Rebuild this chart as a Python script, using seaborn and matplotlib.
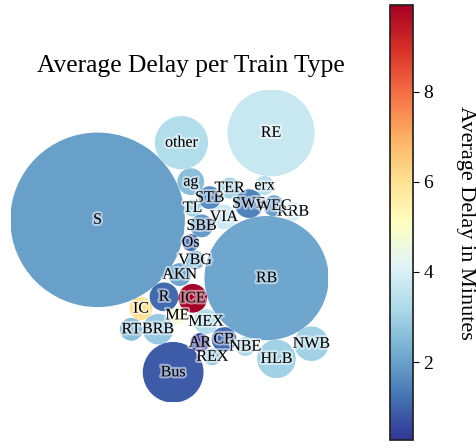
import matplotlib
matplotlib.use("Agg")
import matplotlib.pyplot as plt
import matplotlib.patheffects as pe
import numpy as np
import seaborn as sns

sns.set_theme(
    style="white",
    rc={"text.color": "black", "axes.labelcolor": "black",
        "xtick.color": "black", "ytick.color": "black"},
)
plt.rcParams["font.family"] = ["Liberation Serif", "DejaVu Serif"]

# train types (sorted as from a groupby), number of trains and average delay in minutes
train_types = [
    "AKN", "AR", "BRB", "Bus", "CB", "HLB", "IC", "ICE", "ME", "MEX", "NBE",
    "NWB", "Os", "R", "RB", "RE", "REX", "RRB", "RT", "S", "SBB", "STB",
    "SWE", "TER", "TL", "VBG", "VIA", "WEC", "ag", "erx", "other",
]
n_trains = [
    380, 255, 700, 2904, 450, 1130, 380, 615, 200, 450, 255,
    910, 200, 615, 12430, 6042, 200, 255, 380, 24700, 380, 380,
    615, 315, 200, 255, 450, 315, 530, 255, 2214,
]
avg_delay = [
    2.1, 0.27, 2.8, 0.85, 1.1, 3.0, 6.0, 9.93, 4.9, 3.3, 3.2,
    3.0, 1.2, 1.1, 2.1, 3.7, 2.8, 4.0, 2.6, 2.0, 1.9, 1.6,
    1.5, 3.0, 3.0, 2.4, 3.8, 2.0, 2.6, 3.4, 3.3,
]


class BubbleChart:
    def __init__(self, area, bubble_spacing=0):
        area = np.asarray(area, dtype=float)
        r = np.sqrt(area / np.pi)
        self.bubble_spacing = bubble_spacing
        self.bubbles = np.ones((len(area), 4))
        self.bubbles[:, 2] = r
        self.bubbles[:, 3] = area
        self.maxstep = 2 * r.max() + bubble_spacing
        self.step_dist = self.maxstep / 2
        length = np.ceil(np.sqrt(len(area)))
        grid = np.arange(length) * self.maxstep
        gx, gy = np.meshgrid(grid, grid)
        self.bubbles[:, 0] = gx.flatten()[: len(area)]
        self.bubbles[:, 1] = gy.flatten()[: len(area)]
        self.com = self.center_of_mass()

    def center_of_mass(self):
        return np.average(self.bubbles[:, :2], axis=0, weights=self.bubbles[:, 3])

    def center_distance(self, bubble, bubbles):
        return np.hypot(bubble[0] - bubbles[:, 0], bubble[1] - bubbles[:, 1])

    def outline_distance(self, bubble, bubbles):
        d = self.center_distance(bubble, bubbles)
        return d - bubble[2] - bubbles[:, 2] - self.bubble_spacing

    def check_collisions(self, bubble, bubbles):
        d = self.outline_distance(bubble, bubbles)
        return len(d[d < 0])

    def collides_with(self, bubble, bubbles):
        d = self.outline_distance(bubble, bubbles)
        return np.argmin(d, keepdims=True)

    def collapse(self, n_iterations=50):
        for _ in range(n_iterations):
            moves = 0
            for i in range(len(self.bubbles)):
                rest = np.delete(self.bubbles, i, 0)
                dir_vec = self.com - self.bubbles[i, :2]
                dir_vec = dir_vec / np.sqrt(dir_vec.dot(dir_vec))
                new_point = self.bubbles[i, :2] + dir_vec * self.step_dist
                new_bubble = np.append(new_point, self.bubbles[i, 2:4])
                if not self.check_collisions(new_bubble, rest):
                    self.bubbles[i, :] = new_bubble
                    self.com = self.center_of_mass()
                    moves += 1
                else:
                    for c in self.collides_with(new_bubble, rest):
                        dv = rest[c, :2] - self.bubbles[i, :2]
                        dv = dv / np.sqrt(dv.dot(dv))
                        orth = np.array([dv[1], -dv[0]])
                        p1 = self.bubbles[i, :2] + orth * self.step_dist
                        p2 = self.bubbles[i, :2] - orth * self.step_dist
                        d1 = self.center_distance(self.com, np.array([p1]))
                        d2 = self.center_distance(self.com, np.array([p2]))
                        new_point = p1 if d1 < d2 else p2
                        new_bubble = np.append(new_point, self.bubbles[i, 2:4])
                        if not self.check_collisions(new_bubble, rest):
                            self.bubbles[i, :] = new_bubble
                            self.com = self.center_of_mass()
            if moves / len(self.bubbles) < 0.1:
                self.step_dist = self.step_dist / 2


cmap = sns.color_palette("RdYlBu_r", as_cmap=True)
norm = plt.Normalize(min(avg_delay), max(avg_delay))

chart = BubbleChart(area=n_trains, bubble_spacing=1.5)
chart.collapse()

W, H = 477, 448
fig = plt.figure(figsize=(W / 100, H / 100), dpi=100)

# fit the packed bubbles into the free area left of the colour bar
xs, ys, rs = chart.bubbles[:, 0], chart.bubbles[:, 1], chart.bubbles[:, 2]
xmin, xmax = (xs - rs).min(), (xs + rs).max()
ymin, ymax = (ys - rs).min(), (ys + rs).max()
scale = min(91 / rs.max(), 365 / (xmax - xmin), 312 / (ymax - ymin))
w_px, h_px = (xmax - xmin) * scale, (ymax - ymin) * scale
left_px, top_px = 11, 90
ax = fig.add_axes([left_px / W, 1 - (top_px + h_px) / H, w_px / W, h_px / H])
ax.set_xlim(xmin, xmax)
ax.set_ylim(ymin, ymax)
ax.set_aspect("equal")

for i, (x, y, r, _) in enumerate(chart.bubbles):
    ax.add_patch(plt.Circle((x, y), r, color=cmap(norm(avg_delay[i]))))
    ax.text(
        x, y, train_types[i], ha="center", va="center", fontsize=11.5,
        path_effects=[pe.withStroke(linewidth=3, foreground="white", alpha=0.5)],
    )
ax.axis("off")

fig.text(191 / W, 1 - 66 / H, "Average Delay per Train Type",
         ha="center", va="center", fontsize=18.4)

cax = fig.add_axes([0.818, 0.018, 0.048, 0.971])
sm = plt.cm.ScalarMappable(norm=norm, cmap=cmap)
cb = fig.colorbar(sm, cax=cax)
cb.set_label("Average Delay in Minutes", rotation=270, labelpad=30, fontsize=16)
cb.ax.tick_params(labelsize=14, right=True, length=4, width=0.8)
cb.outline.set_edgecolor("#222222")

fig.savefig("out.png", dpi=100)
